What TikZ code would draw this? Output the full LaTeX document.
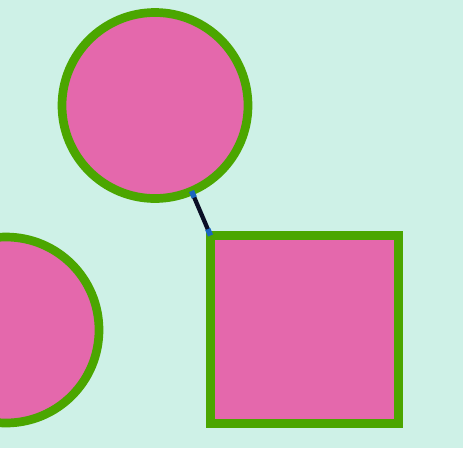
\documentclass[tikz,border=0pt]{standalone}
\usepackage{xcolor}
\usepackage{tikz}
\usetikzlibrary{arrows.meta,positioning}

\definecolor{mintbg}{HTML}{CEF1E7}
\definecolor{rosefill}{HTML}{E468AC}
\definecolor{leafline}{HTML}{4BA600}
\definecolor{inkline}{HTML}{0A0F26}
\definecolor{capblue}{HTML}{1A66C0}

\begin{document}
\begin{tikzpicture}[x=1pt,y=-1pt]
  \tikzstyle{blob}=[circle,draw=leafline,fill=rosefill,line width=8.7pt,minimum size=186pt,inner sep=0pt,outer sep=0pt]
  \tikzstyle{box}=[rectangle,draw=leafline,fill=rosefill,line width=8.7pt,minimum size=188pt,inner sep=0pt,outer sep=0pt]
  \tikzstyle{link}=[draw=inkline,line width=4.3pt,{Rectangle[length=7pt,width=5.5pt,color=capblue]}-{Rectangle[length=7pt,width=5.5pt,color=capblue]}]
  \path[use as bounding box,clip] (0,0) rectangle (463,448);
  \fill[mintbg] (0,0) rectangle (463,448);
  \node[blob] (top) at (155,105.5) {};
  \node[blob] (side) at (6,330) {};
  \node[box] (sq) at (304.5,329.5) {};
  \draw[link] (top) -- (sq.north west);
\end{tikzpicture}
\end{document}
